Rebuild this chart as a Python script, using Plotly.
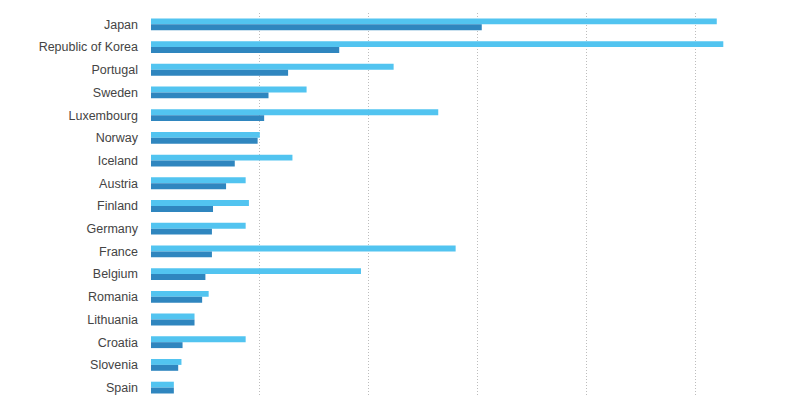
import plotly.graph_objects as go

countries = ["Japan", "Republic of Korea", "Portugal", "Sweden", "Luxembourg", "Norway",
             "Iceland", "Austria", "Finland", "Germany", "France", "Belgium", "Romania",
             "Lithuania", "Croatia", "Slovenia", "Spain"]
series_a = [5.20, 5.26, 2.23, 1.43, 2.64, 1.00, 1.30, 0.87, 0.90, 0.87, 2.80, 1.93, 0.53,
            0.40, 0.87, 0.28, 0.21]
series_b = [3.04, 1.73, 1.26, 1.08, 1.04, 0.98, 0.77, 0.69, 0.57, 0.56, 0.56, 0.50, 0.47,
            0.40, 0.29, 0.25, 0.21]

fig = go.Figure()
fig.add_trace(go.Bar(y=countries, x=series_a, orientation="h", name="A",
                     marker=dict(color="#52c4f0", line=dict(width=0))))
fig.add_trace(go.Bar(y=countries, x=series_b, orientation="h", name="B",
                     marker=dict(color="#2f86bf", line=dict(width=0))))

fig.update_layout(
    width=792, height=388,
    margin=dict(l=143, r=0, t=5, b=0),
    plot_bgcolor="white", paper_bgcolor="white",
    barmode="group", bargap=0.48, bargroupgap=0,
    showlegend=False,
    font=dict(family="Liberation Sans, Arial, sans-serif", size=12.5, color="#444444"),
)
fig.update_xaxes(range=[0, 5.965], tick0=0, dtick=1, showticklabels=False,
                 showgrid=True, gridcolor="#bdbdbd", griddash="1px,2px", gridwidth=1,
                 zeroline=False, showline=False, ticks="")
fig.update_yaxes(range=[16.37, -0.5], showgrid=False, zeroline=False, showline=False,
                 ticks="", ticklabelstandoff=12, tickfont=dict(size=12.5, color="#444444"))

fig.write_html("out.html")
